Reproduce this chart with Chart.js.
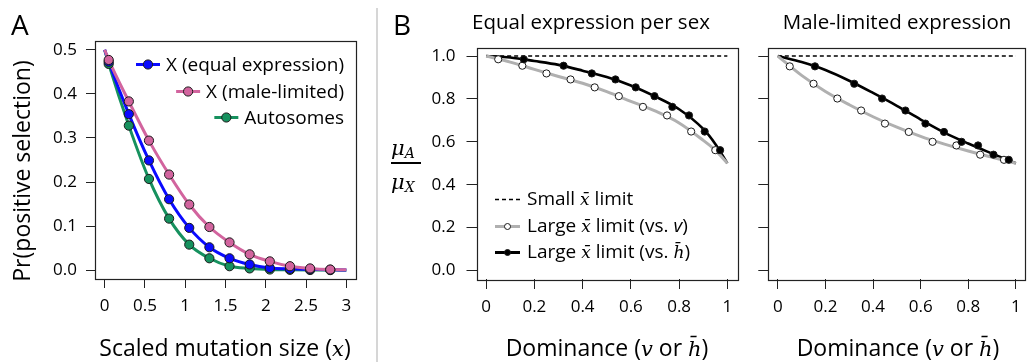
<!DOCTYPE html>
<html>
<head>
<meta charset="utf-8">
<script src="https://cdn.jsdelivr.net/npm/chart.js@4.4.1/dist/chart.umd.min.js"></script>
<style>
body { margin: 0; background: #fff; }
#wrap { position: relative; width: 1030px; height: 362px; overflow: hidden; font-family: 'Open Sans', sans-serif; color: #000; }
canvas { position: absolute; top: 0; }
.t { position: absolute; white-space: nowrap; line-height: 1; }
.m { font-family: 'DejaVu Serif', serif; font-style: italic; }
</style>
</head>
<body>
<div id="wrap">
  <canvas id="chartA" width="370" height="362" style="left:0"></canvas>
  <canvas id="chartB1" width="365" height="362" style="left:380px"></canvas>
  <canvas id="chartB2" width="285" height="362" style="left:745px"></canvas>

  <div style="position:absolute;left:376px;top:8px;width:2px;height:354px;background:#d6d6d6"></div>

  <div class="t" style="left:11px;top:10px;font-size:28px">A</div>
  <div class="t" style="left:393px;top:10px;font-size:28px">B</div>
  <div class="t" style="left:591px;top:11px;font-size:20.5px;transform:translateX(-50%)">Equal expression per sex</div>
  <div class="t" style="left:897px;top:11px;font-size:20.5px;transform:translateX(-50%)">Male-limited expression</div>

  <div class="t" style="left:21px;top:171px;font-size:23px;transform:translate(-50%,-50%) rotate(-90deg)">Pr(positive selection)</div>
  <div class="t" style="left:225px;top:336px;font-size:23px;transform:translateX(-50%)">Scaled mutation size (<span class="m" style="font-size:21px">x</span>)</div>
  <div class="t" style="left:607px;top:336px;font-size:23px;transform:translateX(-50%)">Dominance (<span class="m" style="font-size:21px">v</span> or <span class="m" style="font-size:21px">h&#772;</span>)</div>
  <div class="t" style="left:898px;top:336px;font-size:23px;transform:translateX(-50%)">Dominance (<span class="m" style="font-size:21px">v</span> or <span class="m" style="font-size:21px">h&#772;</span>)</div>

  <div class="t m" style="left:391px;top:138px;font-size:21px">&mu;<span style="font-size:14px;position:relative;top:3px">A</span></div>
  <div style="position:absolute;left:391px;top:162px;width:30px;height:2px;background:#000"></div>
  <div class="t m" style="left:391px;top:172px;font-size:21px">&mu;<span style="font-size:14px;position:relative;top:3px">X</span></div>
</div>

<script>
// ---- panel A: probability of positive selection ----
const aX = [0.05, 0.3, 0.55, 0.8, 1.05, 1.3, 1.55, 1.8, 2.05, 2.3, 2.55, 2.8];
const aEqual = [0.473, 0.354, 0.249, 0.161, 0.096, 0.052, 0.027, 0.013, 0.005, 0.003, 0.002, 0.001];
const aMale = [0.477, 0.383, 0.294, 0.217, 0.149, 0.098, 0.063, 0.036, 0.020, 0.009, 0.004, 0.0015];
const aAuto = [0.468, 0.328, 0.207, 0.117, 0.058, 0.027, 0.009, 0.004, 0.0015, 0.0008, 0.0004, 0.0002];

const aCurveX = [0, 0.05, 0.3, 0.55, 0.8, 1.05, 1.3, 1.55, 1.8, 2.05, 2.3, 2.55, 2.8, 3];
const aEqualCurve = [0.5, 0.473, 0.354, 0.249, 0.161, 0.096, 0.052, 0.027, 0.013, 0.005, 0.003, 0.002, 0.001, 0.0003];
const aMaleCurve = [0.5, 0.477, 0.383, 0.294, 0.217, 0.149, 0.098, 0.063, 0.036, 0.020, 0.009, 0.004, 0.0015, 0.001];
const aAutoCurve = [0.5, 0.468, 0.328, 0.207, 0.117, 0.058, 0.027, 0.009, 0.004, 0.0015, 0.0008, 0.0004, 0.0002, 0.0001];

const aXTicks = [0, 0.5, 1, 1.5, 2, 2.5, 3];
const aYTicks = [0, 0.1, 0.2, 0.3, 0.4, 0.5];

// ---- panel B: mu_A / mu_X against dominance ----
const bV = [0.05, 0.15, 0.25, 0.35, 0.45, 0.55, 0.65, 0.75, 0.85, 0.95];
const bH = [0.156, 0.321, 0.438, 0.536, 0.620, 0.698, 0.772, 0.841, 0.906, 0.970];
const bEqual = [0.985, 0.955, 0.919, 0.891, 0.854, 0.813, 0.763, 0.723, 0.648, 0.561];
const bMale = [0.952, 0.871, 0.802, 0.746, 0.685, 0.646, 0.600, 0.583, 0.540, 0.516];

const bCurveX = [0, 0.1, 0.2, 0.3, 0.4, 0.5, 0.6, 0.7, 0.8, 0.9, 0.95, 1];
const bEqualV = [1, 0.972, 0.938, 0.905, 0.873, 0.834, 0.789, 0.744, 0.688, 0.607, 0.561, 0.5];
const bEqualH = [1, 0.993, 0.977, 0.959, 0.932, 0.902, 0.863, 0.812, 0.752, 0.660, 0.590, 0.5];
const bMaleV = [1, 0.91, 0.835, 0.773, 0.717, 0.668, 0.625, 0.589, 0.557, 0.528, 0.514, 0.5];
const bMaleH = [1, 0.972, 0.935, 0.885, 0.828, 0.768, 0.704, 0.643, 0.592, 0.545, 0.522, 0.5];
const bSmallX = [0, 1];
const bSmall = [1, 1];

const bXTicks = [0, 0.2, 0.4, 0.6, 0.8, 1];
const bYTicks = [0, 0.2, 0.4, 0.6, 0.8, 1];

const BLUE = '#0a0aff';
const PINK = '#d2649e';
const GREEN = '#16915e';
const GREY = '#b0b0b0';

const SANS = '"Open Sans"';
const MATH = '"DejaVu Serif"';

function pts(xs, ys) {
    return xs.map((x, i) => ({ x: x, y: ys[i] }));
}

function curve(xs, ys, color, width) {
    return {
        data: pts(xs, ys), showLine: true, borderColor: color, borderWidth: width,
        pointRadius: 0, cubicInterpolationMode: 'monotone', order: 10
    };
}

function dots(xs, ys, fill, r, order) {
    return {
        data: pts(xs, ys), showLine: false, pointRadius: r, pointHoverRadius: r,
        pointBackgroundColor: fill, pointBorderColor: '#1a1a1a', pointBorderWidth: 1, order: order
    };
}

function axis(min, max, ticks, o) {
    return {
        type: 'linear', min: min, max: max,
        afterBuildTicks: s => { s.ticks = ticks.map(v => ({ value: v })); },
        afterFit: s => {
            if (o.w != null) s.width = o.w;
            if (o.h != null) s.height = o.h;
        },
        grid: { drawOnChartArea: false, drawTicks: true, tickLength: o.tl, color: '#222', lineWidth: 1 },
        border: { display: false },
        ticks: {
            display: o.labels !== false, padding: o.pad, color: '#000', autoSkip: false, maxRotation: 0,
            font: { family: SANS, size: 17 }, callback: o.fmt
        }
    };
}

// frame round the plot region
const boxPlugin = {
    id: 'box',
    afterDatasetsDraw(chart) {
        const a = chart.chartArea, ctx = chart.ctx;
        ctx.save();
        ctx.strokeStyle = '#222';
        ctx.lineWidth = 1.2;
        ctx.strokeRect(Math.round(a.left) + 0.5, Math.round(a.top) + 0.5,
            Math.round(a.right - a.left), Math.round(a.bottom - a.top));
        ctx.restore();
    }
};

function runsWidth(ctx, runs) {
    let w = 0;
    runs.forEach(r => { ctx.font = r.f; w += ctx.measureText(r.t).width; });
    return w;
}

// R style legend: line segment with a point in the middle, text beside it
function legendPlugin(o) {
    return {
        id: 'rLegend',
        afterDraw(chart) {
            const ctx = chart.ctx;
            o.items.forEach((it, i) => {
                const base = o.y[i];
                ctx.save();
                ctx.fillStyle = '#000';
                ctx.textBaseline = 'alphabetic';
                let tx = o.align === 'right' ? o.x - runsWidth(ctx, it.runs) : o.x;
                const x1 = tx - o.gap - o.len, x2 = tx - o.gap, sy = Math.round(base - o.lift) + 0.5;
                it.runs.forEach(r => {
                    ctx.font = r.f;
                    ctx.fillText(r.t, tx, base);
                    tx += ctx.measureText(r.t).width;
                });
                ctx.strokeStyle = it.color;
                ctx.lineWidth = it.lw;
                ctx.setLineDash(it.dash ? it.dash : []);
                ctx.beginPath();
                ctx.moveTo(x1, sy);
                ctx.lineTo(x2, sy);
                ctx.stroke();
                ctx.setLineDash([]);
                if (it.dot) {
                    ctx.beginPath();
                    ctx.arc((x1 + x2) / 2, sy, o.r, 0, Math.PI * 2);
                    ctx.fillStyle = it.dot;
                    ctx.fill();
                    ctx.lineWidth = 1;
                    ctx.strokeStyle = '#1a1a1a';
                    ctx.stroke();
                }
                ctx.restore();
            });
        }
    };
}

function makeChart(id, datasets, scales, pad, legend) {
    const plugins = [boxPlugin];
    if (legend) plugins.push(legendPlugin(legend));
    new Chart(document.getElementById(id), {
        type: 'scatter',
        data: { datasets: datasets },
        options: {
            responsive: false, animation: false, events: [],
            layout: { padding: pad },
            scales: scales,
            plugins: { legend: { display: false }, tooltip: { enabled: false } }
        },
        plugins: plugins
    });
}

const f1 = v => v.toFixed(1);
const f0 = v => String(v);
const plain = t => ({ t: t, f: '19px ' + SANS });
const ital = t => ({ t: t, f: 'italic 19px ' + SANS });
const math = t => ({ t: t, f: 'italic 17px ' + MATH });

makeChart('chartA', [
    dots(aX, aMale, PINK, 4.6, 1),
    dots(aX, aEqual, BLUE, 4.6, 2),
    dots(aX, aAuto, GREEN, 4.6, 3),
    curve(aCurveX, aMaleCurve, PINK, 3),
    curve(aCurveX, aEqualCurve, BLUE, 3),
    curve(aCurveX, aAutoCurve, GREEN, 3)
], {
    x: axis(-0.12, 3.12, aXTicks, { h: 83, tl: 9, pad: 8, fmt: f0 }),
    y: axis(-0.02, 0.52, aYTicks, { w: 95, tl: 9, pad: 9, fmt: f1 })
}, { top: 41, right: 14, left: 0, bottom: 0 }, {
    align: 'right', x: 344, y: [71, 97.5, 124], gap: 6, len: 24, lift: 7, r: 4.6,
    items: [
        { runs: [plain('X (equal expression)')], color: BLUE, lw: 3, dot: BLUE },
        { runs: [plain('X (male-limited)')], color: PINK, lw: 3, dot: PINK },
        { runs: [plain('Autosomes')], color: GREEN, lw: 3, dot: GREEN }
    ]
});

makeChart('chartB1', [
    dots(bV, bEqual, '#fff', 3.6, 2),
    dots(bH, bEqual, '#000', 3.6, 1),
    { data: pts(bSmallX, bSmall), showLine: true, borderColor: '#000', borderWidth: 1.5, borderDash: [4, 3], pointRadius: 0, order: 12 },
    curve(bCurveX, bEqualV, GREY, 3),
    curve(bCurveX, bEqualH, '#000', 2.6)
], {
    x: axis(-0.04, 1.04, bXTicks, { h: 83, tl: 10, pad: 8, fmt: f0 }),
    y: axis(-0.04, 1.04, bYTicks, { w: 96.5, tl: 10, pad: 11, fmt: f1 })
}, { top: 47.5, right: 8, left: 0, bottom: 0 }, {
    align: 'left', x: 147, y: [205, 231.7, 258.3], gap: 7, len: 25, lift: 6, r: 3,
    items: [
        { runs: [plain('Small '), math('x\u0304'), plain(' limit')], color: '#000', lw: 1.3, dash: [4, 3] },
        { runs: [plain('Large '), math('x\u0304'), plain(' limit (vs. '), ital('v'), plain(')')], color: GREY, lw: 3, dot: '#fff' },
        { runs: [plain('Large '), math('x\u0304'), plain(' limit (vs. '), math('h\u0304'), plain(')')], color: '#000', lw: 3, dot: '#000' }
    ]
});

makeChart('chartB2', [
    dots(bV, bMale, '#fff', 3.6, 2),
    dots(bH, bMale, '#000', 3.6, 1),
    { data: pts(bSmallX, bSmall), showLine: true, borderColor: '#000', borderWidth: 1.5, borderDash: [4, 3], pointRadius: 0, order: 12 },
    curve(bCurveX, bMaleV, GREY, 3),
    curve(bCurveX, bMaleH, '#000', 2.6)
], {
    x: axis(-0.04, 1.04, bXTicks, { h: 83, tl: 10, pad: 8, fmt: f0 }),
    y: axis(-0.04, 1.04, bYTicks, { w: 23.3, tl: 10, pad: 11, labels: false })
}, { top: 47.5, right: 1.4, left: 0, bottom: 0 }, null);
</script>
</body>
</html>
